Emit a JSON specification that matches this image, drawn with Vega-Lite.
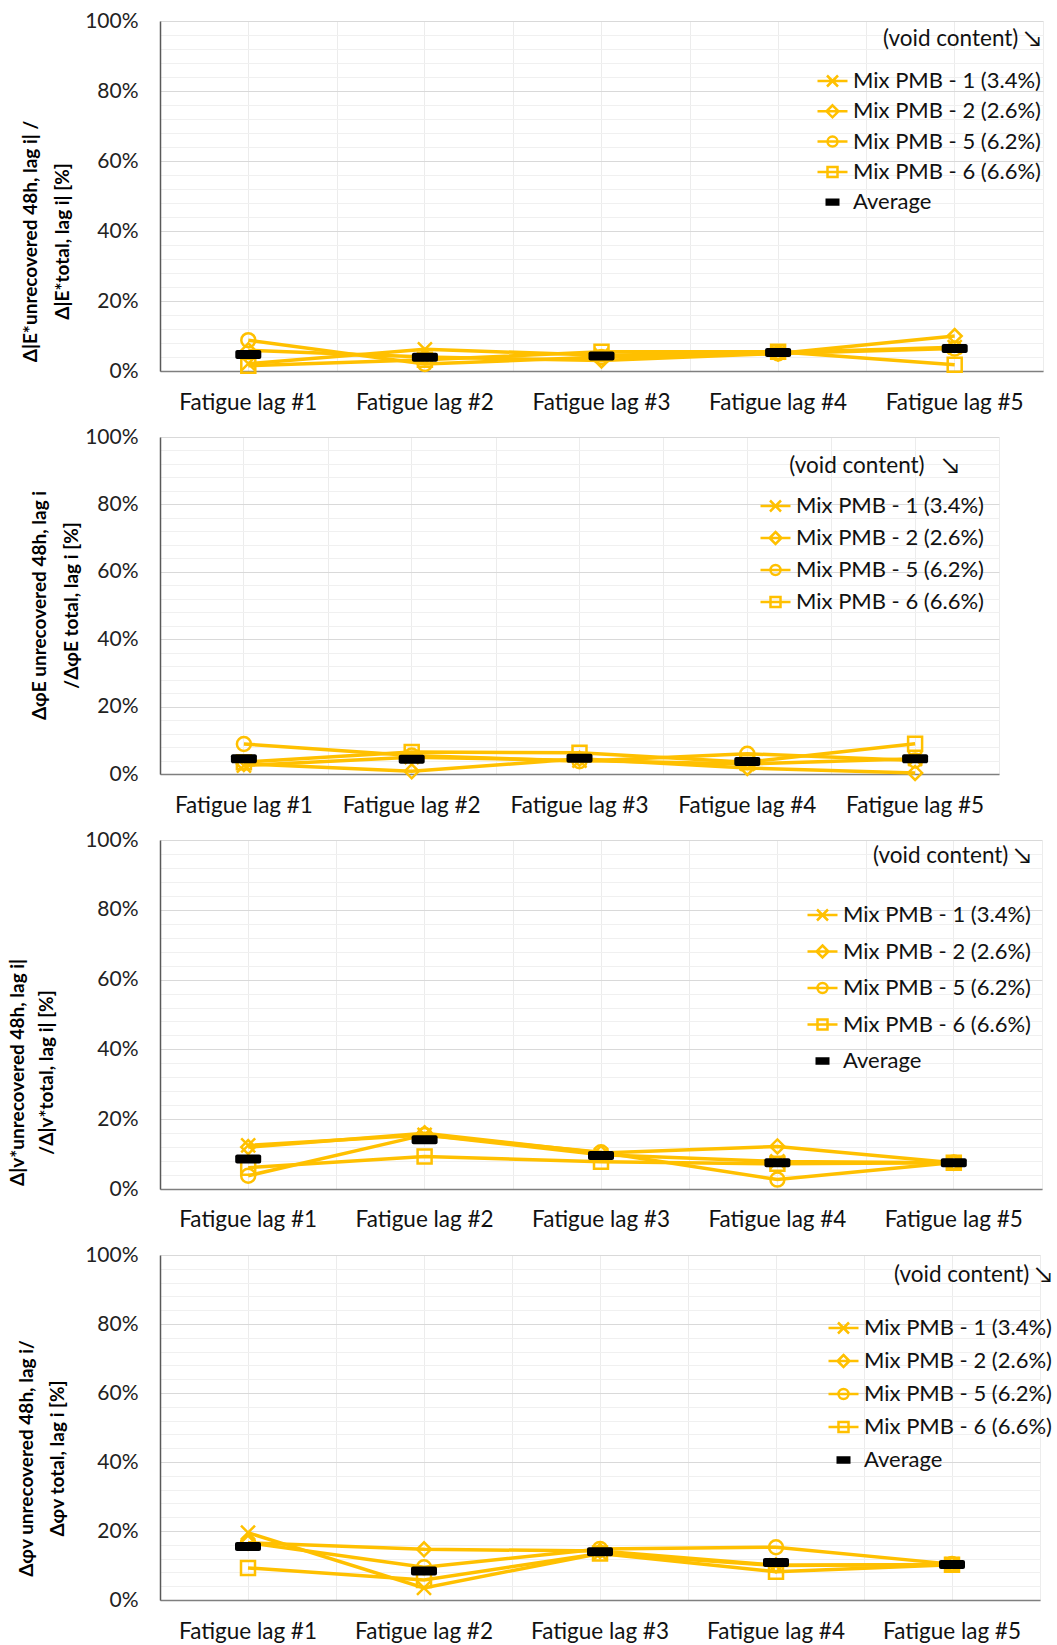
{
  "$schema": "https://vega.github.io/schema/vega-lite/v6.json",
  "background": "white",
  "padding": {"left": 7, "top": 10, "right": 0, "bottom": 0},
  "bounds": "flush",
  "spacing": 66,
  "resolve": {"scale": {"shape": "independent", "color": "independent"}, "legend": {"shape": "independent", "color": "independent"}},
  "config": {
    "view": {"stroke": null},
    "font": "Lato",
    "axis": {"labelFont": "Lato", "titleFont": "Lato"},
    "legend": {"labelFont": "Lato", "titleFont": "Lato"}
  },
  "data": {"values": [
    {"p":1,"lag":"Fatigue lag #1","series":"Mix PMB - 1 (3.4%)","v":2.1},
    {"p":1,"lag":"Fatigue lag #2","series":"Mix PMB - 1 (3.4%)","v":6.2},
    {"p":1,"lag":"Fatigue lag #3","series":"Mix PMB - 1 (3.4%)","v":4.5},
    {"p":1,"lag":"Fatigue lag #4","series":"Mix PMB - 1 (3.4%)","v":5.3},
    {"p":1,"lag":"Fatigue lag #5","series":"Mix PMB - 1 (3.4%)","v":6.8},
    {"p":1,"lag":"Fatigue lag #1","series":"Mix PMB - 2 (2.6%)","v":5.9},
    {"p":1,"lag":"Fatigue lag #2","series":"Mix PMB - 2 (2.6%)","v":4.0},
    {"p":1,"lag":"Fatigue lag #3","series":"Mix PMB - 2 (2.6%)","v":3.0},
    {"p":1,"lag":"Fatigue lag #4","series":"Mix PMB - 2 (2.6%)","v":5.0},
    {"p":1,"lag":"Fatigue lag #5","series":"Mix PMB - 2 (2.6%)","v":10.0},
    {"p":1,"lag":"Fatigue lag #1","series":"Mix PMB - 5 (6.2%)","v":8.8},
    {"p":1,"lag":"Fatigue lag #2","series":"Mix PMB - 5 (6.2%)","v":2.0},
    {"p":1,"lag":"Fatigue lag #3","series":"Mix PMB - 5 (6.2%)","v":4.0},
    {"p":1,"lag":"Fatigue lag #4","series":"Mix PMB - 5 (6.2%)","v":5.0},
    {"p":1,"lag":"Fatigue lag #5","series":"Mix PMB - 5 (6.2%)","v":6.4},
    {"p":1,"lag":"Fatigue lag #1","series":"Mix PMB - 6 (6.6%)","v":1.5},
    {"p":1,"lag":"Fatigue lag #2","series":"Mix PMB - 6 (6.6%)","v":3.2},
    {"p":1,"lag":"Fatigue lag #3","series":"Mix PMB - 6 (6.6%)","v":5.5},
    {"p":1,"lag":"Fatigue lag #4","series":"Mix PMB - 6 (6.6%)","v":5.5},
    {"p":1,"lag":"Fatigue lag #5","series":"Mix PMB - 6 (6.6%)","v":1.8},
    {"p":1,"lag":"Fatigue lag #1","series":"Average","v":4.7},
    {"p":1,"lag":"Fatigue lag #2","series":"Average","v":3.9},
    {"p":1,"lag":"Fatigue lag #3","series":"Average","v":4.3},
    {"p":1,"lag":"Fatigue lag #4","series":"Average","v":5.3},
    {"p":1,"lag":"Fatigue lag #5","series":"Average","v":6.4},

    {"p":2,"lag":"Fatigue lag #1","series":"Mix PMB - 1 (3.4%)","v":2.5},
    {"p":2,"lag":"Fatigue lag #2","series":"Mix PMB - 1 (3.4%)","v":5.0},
    {"p":2,"lag":"Fatigue lag #3","series":"Mix PMB - 1 (3.4%)","v":4.0},
    {"p":2,"lag":"Fatigue lag #4","series":"Mix PMB - 1 (3.4%)","v":3.0},
    {"p":2,"lag":"Fatigue lag #5","series":"Mix PMB - 1 (3.4%)","v":4.5},
    {"p":2,"lag":"Fatigue lag #1","series":"Mix PMB - 2 (2.6%)","v":3.0},
    {"p":2,"lag":"Fatigue lag #2","series":"Mix PMB - 2 (2.6%)","v":0.8},
    {"p":2,"lag":"Fatigue lag #3","series":"Mix PMB - 2 (2.6%)","v":4.5},
    {"p":2,"lag":"Fatigue lag #4","series":"Mix PMB - 2 (2.6%)","v":1.8},
    {"p":2,"lag":"Fatigue lag #5","series":"Mix PMB - 2 (2.6%)","v":0.3},
    {"p":2,"lag":"Fatigue lag #1","series":"Mix PMB - 5 (6.2%)","v":8.9},
    {"p":2,"lag":"Fatigue lag #2","series":"Mix PMB - 5 (6.2%)","v":5.5},
    {"p":2,"lag":"Fatigue lag #3","series":"Mix PMB - 5 (6.2%)","v":3.8},
    {"p":2,"lag":"Fatigue lag #4","series":"Mix PMB - 5 (6.2%)","v":6.0},
    {"p":2,"lag":"Fatigue lag #5","series":"Mix PMB - 5 (6.2%)","v":4.0},
    {"p":2,"lag":"Fatigue lag #1","series":"Mix PMB - 6 (6.6%)","v":3.5},
    {"p":2,"lag":"Fatigue lag #2","series":"Mix PMB - 6 (6.6%)","v":6.5},
    {"p":2,"lag":"Fatigue lag #3","series":"Mix PMB - 6 (6.6%)","v":6.3},
    {"p":2,"lag":"Fatigue lag #4","series":"Mix PMB - 6 (6.6%)","v":3.5},
    {"p":2,"lag":"Fatigue lag #5","series":"Mix PMB - 6 (6.6%)","v":9.0},
    {"p":2,"lag":"Fatigue lag #1","series":"Average","v":4.5},
    {"p":2,"lag":"Fatigue lag #2","series":"Average","v":4.4},
    {"p":2,"lag":"Fatigue lag #3","series":"Average","v":4.7},
    {"p":2,"lag":"Fatigue lag #4","series":"Average","v":3.7},
    {"p":2,"lag":"Fatigue lag #5","series":"Average","v":4.5},

    {"p":3,"lag":"Fatigue lag #1","series":"Mix PMB - 1 (3.4%)","v":12.5},
    {"p":3,"lag":"Fatigue lag #2","series":"Mix PMB - 1 (3.4%)","v":15.5},
    {"p":3,"lag":"Fatigue lag #3","series":"Mix PMB - 1 (3.4%)","v":9.8},
    {"p":3,"lag":"Fatigue lag #4","series":"Mix PMB - 1 (3.4%)","v":7.9},
    {"p":3,"lag":"Fatigue lag #5","series":"Mix PMB - 1 (3.4%)","v":7.5},
    {"p":3,"lag":"Fatigue lag #1","series":"Mix PMB - 2 (2.6%)","v":12.0},
    {"p":3,"lag":"Fatigue lag #2","series":"Mix PMB - 2 (2.6%)","v":16.0},
    {"p":3,"lag":"Fatigue lag #3","series":"Mix PMB - 2 (2.6%)","v":10.3},
    {"p":3,"lag":"Fatigue lag #4","series":"Mix PMB - 2 (2.6%)","v":12.2},
    {"p":3,"lag":"Fatigue lag #5","series":"Mix PMB - 2 (2.6%)","v":7.5},
    {"p":3,"lag":"Fatigue lag #1","series":"Mix PMB - 5 (6.2%)","v":3.8},
    {"p":3,"lag":"Fatigue lag #2","series":"Mix PMB - 5 (6.2%)","v":15.5},
    {"p":3,"lag":"Fatigue lag #3","series":"Mix PMB - 5 (6.2%)","v":10.5},
    {"p":3,"lag":"Fatigue lag #4","series":"Mix PMB - 5 (6.2%)","v":2.7},
    {"p":3,"lag":"Fatigue lag #5","series":"Mix PMB - 5 (6.2%)","v":7.6},
    {"p":3,"lag":"Fatigue lag #1","series":"Mix PMB - 6 (6.6%)","v":6.1},
    {"p":3,"lag":"Fatigue lag #2","series":"Mix PMB - 6 (6.6%)","v":9.3},
    {"p":3,"lag":"Fatigue lag #3","series":"Mix PMB - 6 (6.6%)","v":7.8},
    {"p":3,"lag":"Fatigue lag #4","series":"Mix PMB - 6 (6.6%)","v":7.2},
    {"p":3,"lag":"Fatigue lag #5","series":"Mix PMB - 6 (6.6%)","v":7.5},
    {"p":3,"lag":"Fatigue lag #1","series":"Average","v":8.6},
    {"p":3,"lag":"Fatigue lag #2","series":"Average","v":14.1},
    {"p":3,"lag":"Fatigue lag #3","series":"Average","v":9.6},
    {"p":3,"lag":"Fatigue lag #4","series":"Average","v":7.5},
    {"p":3,"lag":"Fatigue lag #5","series":"Average","v":7.5},

    {"p":4,"lag":"Fatigue lag #1","series":"Mix PMB - 1 (3.4%)","v":19.5},
    {"p":4,"lag":"Fatigue lag #2","series":"Mix PMB - 1 (3.4%)","v":3.5},
    {"p":4,"lag":"Fatigue lag #3","series":"Mix PMB - 1 (3.4%)","v":13.5},
    {"p":4,"lag":"Fatigue lag #4","series":"Mix PMB - 1 (3.4%)","v":10.0},
    {"p":4,"lag":"Fatigue lag #5","series":"Mix PMB - 1 (3.4%)","v":10.3},
    {"p":4,"lag":"Fatigue lag #1","series":"Mix PMB - 2 (2.6%)","v":16.6},
    {"p":4,"lag":"Fatigue lag #2","series":"Mix PMB - 2 (2.6%)","v":14.7},
    {"p":4,"lag":"Fatigue lag #3","series":"Mix PMB - 2 (2.6%)","v":14.2},
    {"p":4,"lag":"Fatigue lag #4","series":"Mix PMB - 2 (2.6%)","v":10.1},
    {"p":4,"lag":"Fatigue lag #5","series":"Mix PMB - 2 (2.6%)","v":10.3},
    {"p":4,"lag":"Fatigue lag #1","series":"Mix PMB - 5 (6.2%)","v":16.6},
    {"p":4,"lag":"Fatigue lag #2","series":"Mix PMB - 5 (6.2%)","v":9.5},
    {"p":4,"lag":"Fatigue lag #3","series":"Mix PMB - 5 (6.2%)","v":14.8},
    {"p":4,"lag":"Fatigue lag #4","series":"Mix PMB - 5 (6.2%)","v":15.3},
    {"p":4,"lag":"Fatigue lag #5","series":"Mix PMB - 5 (6.2%)","v":10.4},
    {"p":4,"lag":"Fatigue lag #1","series":"Mix PMB - 6 (6.6%)","v":9.3},
    {"p":4,"lag":"Fatigue lag #2","series":"Mix PMB - 6 (6.6%)","v":5.8},
    {"p":4,"lag":"Fatigue lag #3","series":"Mix PMB - 6 (6.6%)","v":13.5},
    {"p":4,"lag":"Fatigue lag #4","series":"Mix PMB - 6 (6.6%)","v":8.2},
    {"p":4,"lag":"Fatigue lag #5","series":"Mix PMB - 6 (6.6%)","v":10.2},
    {"p":4,"lag":"Fatigue lag #1","series":"Average","v":15.5},
    {"p":4,"lag":"Fatigue lag #2","series":"Average","v":8.4},
    {"p":4,"lag":"Fatigue lag #3","series":"Average","v":14.0},
    {"p":4,"lag":"Fatigue lag #4","series":"Average","v":10.9},
    {"p":4,"lag":"Fatigue lag #5","series":"Average","v":10.3}
  ]},
  "vconcat": [
    {
      "width": 883, "height": 350,
      "transform": [{"filter": "datum.p == 1"}],
      "resolve": {"axis": {"x": "independent", "y": "independent"}},
      "layer": [
        {
          "transform": [{"filter": "datum.series != 'Average'"}],
          "mark": {"type": "line", "color": "#FFC000", "strokeWidth": 3.5},
          "encoding": {
            "x": {"field": "lag", "type": "nominal", "bandPosition": 0.5,
              "scale": {"type": "band", "paddingInner": 0, "paddingOuter": 0},
              "axis": {"orient": "bottom", "title": null, "labelAngle": 0, "labelFontSize": 22.5, "labelColor": "#111", "labelPadding": 20, "ticks": false, "domainColor": "#7f7f7f", "domainWidth": 1.5, "grid": true, "gridColor": "#ececec", "tickBand": "center"}},
            "y": {"field": "v", "type": "quantitative", "scale": {"domain": [0, 100], "nice": false},
              "axis": {"values": [0,20,40,60,80,100], "labelExpr": "datum.value + '%'", "labelFontSize": 21, "labelColor": "#222", "labelPadding": 22, "ticks": false, "domainColor": "#595959", "domainWidth": 1.5, "grid": true, "gridColor": "#d9d9d9", "gridWidth": 1.2,
                "title": ["Δ|E*unrecovered 48h, lag i| /", "Δ|E*total, lag i| [%]"], "titleFontSize": 19, "titleFontWeight": "bold", "titleColor": "#000", "titleLineHeight": 32, "titleX": -120, "titleY": 220}},
            "detail": {"field": "series"}
          }
        },
        {
          "transform": [{"filter": "datum.series == 'Mix PMB - 1 (3.4%)'"}],
          "mark": {"type": "point", "shape": "M-1,-1L1,1M-1,1L1,-1", "filled": false, "stroke": "#FFC000", "strokeWidth": 2.5, "size": 196, "opacity": 1},
          "encoding": {
            "x": {"field": "lag", "type": "nominal", "bandPosition": 0.5,
              "axis": {"orient": "top", "title": null, "labels": false, "ticks": false, "domain": false, "grid": true, "gridColor": "#ececec", "tickBand": "extent"}},
            "y": {"field": "v", "type": "quantitative",
              "axis": {"orient": "right", "title": null, "values": [4,8,12,16,24,28,32,36,44,48,52,56,64,68,72,76,84,88,92,96], "labels": false, "ticks": false, "domain": false, "grid": true, "gridColor": "#f0f0f0"}}
          }
        },
        {
          "transform": [{"filter": "datum.series == 'Mix PMB - 2 (2.6%)'"}],
          "mark": {"type": "point", "shape": "diamond", "filled": false, "stroke": "#FFC000", "strokeWidth": 2.5, "size": 196, "opacity": 1},
          "encoding": {
            "x": {"field": "lag", "type": "nominal", "bandPosition": 0.5, "axis": null},
            "y": {"field": "v", "type": "quantitative", "axis": null}
          }
        },
        {
          "transform": [{"filter": "datum.series == 'Mix PMB - 5 (6.2%)'"}],
          "mark": {"type": "point", "shape": "circle", "filled": false, "stroke": "#FFC000", "strokeWidth": 2.5, "size": 196, "opacity": 1},
          "encoding": {
            "x": {"field": "lag", "type": "nominal", "bandPosition": 0.5, "axis": null},
            "y": {"field": "v", "type": "quantitative", "axis": null}
          }
        },
        {
          "transform": [{"filter": "datum.series == 'Mix PMB - 6 (6.6%)'"}],
          "mark": {"type": "point", "shape": "square", "filled": false, "stroke": "#FFC000", "strokeWidth": 2.5, "size": 196, "opacity": 1},
          "encoding": {
            "x": {"field": "lag", "type": "nominal", "bandPosition": 0.5, "axis": null},
            "y": {"field": "v", "type": "quantitative", "axis": null}
          }
        },
        {
          "transform": [{"filter": "datum.series == 'Average'"}],
          "mark": {"type": "tick", "color": "black", "thickness": 9, "size": 26, "cornerRadius": 2, "opacity": 1},
          "encoding": {
            "x": {"field": "lag", "type": "nominal", "axis": null},
            "y": {"field": "v", "type": "quantitative", "axis": null}
          }
        },
        {
          "mark": {"type": "point", "filled": false, "opacity": 0},
          "encoding": {
            "x": {"field": "lag", "type": "nominal", "bandPosition": 0.5, "axis": null},
            "y": {"field": "v", "type": "quantitative", "axis": null},
            "color": {"field": "series", "type": "nominal",
              "scale": {"domain": ["Mix PMB - 1 (3.4%)", "Mix PMB - 2 (2.6%)", "Mix PMB - 5 (6.2%)", "Mix PMB - 6 (6.6%)", "Average"], "range": ["#FFC000", "#FFC000", "#FFC000", "#FFC000", "#000000"]},
              "legend": {"orient": "none", "legendX": 661, "legendY": 7, "padding": 0, "title": "(void content)\u00a0↘", "titleFontSize": 22.5, "titleFontWeight": "normal", "titleColor": "#111", "titleAnchor": "end", "titleAlign": "right", "titlePadding": 19, "titleLimit": 500, "labelFontSize": 22, "labelColor": "#111", "labelOffset": 9, "labelLimit": 400, "symbolSize": 400, "symbolStrokeWidth": 2.5, "symbolOpacity": 1, "rowPadding": 7.3}},
            "shape": {"field": "series", "type": "nominal",
              "scale": {"domain": ["Mix PMB - 1 (3.4%)", "Mix PMB - 2 (2.6%)", "Mix PMB - 5 (6.2%)", "Mix PMB - 6 (6.6%)", "Average"],
                "range": ["M-1.5,0H1.5M-0.55,-0.55L0.55,0.55M-0.55,0.55L0.55,-0.55", "M-1.5,0H1.5M0,-0.6L0.6,0L0,0.6L-0.6,0Z", "M-1.5,0H1.5M-0.5,0A0.5,0.5 0 1,0 0.5,0A0.5,0.5 0 1,0 -0.5,0Z", "M-1.5,0H1.5M-0.5,-0.5H0.5V0.5H-0.5Z", "M-0.7,-0.24H0.7M-0.7,-0.16H0.7M-0.7,-0.08H0.7M-0.7,0H0.7M-0.7,0.08H0.7M-0.7,0.16H0.7M-0.7,0.24H0.7"]},
              "legend": {"orient": "none", "legendX": 661, "legendY": 7, "padding": 0, "title": "(void content)\u00a0↘", "titleFontSize": 22.5, "titleFontWeight": "normal", "titleColor": "#111", "titleAnchor": "end", "titleAlign": "right", "titlePadding": 19, "titleLimit": 500, "labelFontSize": 22, "labelColor": "#111", "labelOffset": 9, "labelLimit": 400, "symbolSize": 400, "symbolStrokeWidth": 2.5, "symbolOpacity": 1, "rowPadding": 7.3}}
          }
        }
      ]
    },
    {
      "width": 839, "height": 337,
      "transform": [{"filter": "datum.p == 2"}],
      "resolve": {"axis": {"x": "independent", "y": "independent"}},
      "layer": [
        {
          "transform": [{"filter": "datum.series != 'Average'"}],
          "mark": {"type": "line", "color": "#FFC000", "strokeWidth": 3.5},
          "encoding": {
            "x": {"field": "lag", "type": "nominal", "bandPosition": 0.5,
              "scale": {"type": "band", "paddingInner": 0, "paddingOuter": 0},
              "axis": {"orient": "bottom", "title": null, "labelAngle": 0, "labelFontSize": 22.5, "labelColor": "#111", "labelPadding": 20, "ticks": false, "domainColor": "#7f7f7f", "domainWidth": 1.5, "grid": true, "gridColor": "#ececec", "tickBand": "center"}},
            "y": {"field": "v", "type": "quantitative", "scale": {"domain": [0, 100], "nice": false},
              "axis": {"values": [0,20,40,60,80,100], "labelExpr": "datum.value + '%'", "labelFontSize": 21, "labelColor": "#222", "labelPadding": 22, "ticks": false, "domainColor": "#595959", "domainWidth": 1.5, "grid": true, "gridColor": "#d9d9d9", "gridWidth": 1.2,
                "title": ["ΔφE unrecovered 48h, lag i", "/ΔφE total, lag i [%]"], "titleFontSize": 19, "titleFontWeight": "bold", "titleColor": "#000", "titleLineHeight": 32, "titleX": -111, "titleY": 168}},
            "detail": {"field": "series"}
          }
        },
        {
          "transform": [{"filter": "datum.series == 'Mix PMB - 1 (3.4%)'"}],
          "mark": {"type": "point", "shape": "M-1,-1L1,1M-1,1L1,-1", "filled": false, "stroke": "#FFC000", "strokeWidth": 2.5, "size": 196, "opacity": 1},
          "encoding": {
            "x": {"field": "lag", "type": "nominal", "bandPosition": 0.5,
              "axis": {"orient": "top", "title": null, "labels": false, "ticks": false, "domain": false, "grid": true, "gridColor": "#ececec", "tickBand": "extent"}},
            "y": {"field": "v", "type": "quantitative",
              "axis": {"orient": "right", "title": null, "values": [4,8,12,16,24,28,32,36,44,48,52,56,64,68,72,76,84,88,92,96], "labels": false, "ticks": false, "domain": false, "grid": true, "gridColor": "#f0f0f0"}}
          }
        },
        {
          "transform": [{"filter": "datum.series == 'Mix PMB - 2 (2.6%)'"}],
          "mark": {"type": "point", "shape": "diamond", "filled": false, "stroke": "#FFC000", "strokeWidth": 2.5, "size": 196, "opacity": 1},
          "encoding": {
            "x": {"field": "lag", "type": "nominal", "bandPosition": 0.5, "axis": null},
            "y": {"field": "v", "type": "quantitative", "axis": null}
          }
        },
        {
          "transform": [{"filter": "datum.series == 'Mix PMB - 5 (6.2%)'"}],
          "mark": {"type": "point", "shape": "circle", "filled": false, "stroke": "#FFC000", "strokeWidth": 2.5, "size": 196, "opacity": 1},
          "encoding": {
            "x": {"field": "lag", "type": "nominal", "bandPosition": 0.5, "axis": null},
            "y": {"field": "v", "type": "quantitative", "axis": null}
          }
        },
        {
          "transform": [{"filter": "datum.series == 'Mix PMB - 6 (6.6%)'"}],
          "mark": {"type": "point", "shape": "square", "filled": false, "stroke": "#FFC000", "strokeWidth": 2.5, "size": 196, "opacity": 1},
          "encoding": {
            "x": {"field": "lag", "type": "nominal", "bandPosition": 0.5, "axis": null},
            "y": {"field": "v", "type": "quantitative", "axis": null}
          }
        },
        {
          "transform": [{"filter": "datum.series == 'Average'"}],
          "mark": {"type": "tick", "color": "black", "thickness": 9, "size": 26, "cornerRadius": 2, "opacity": 1},
          "encoding": {
            "x": {"field": "lag", "type": "nominal", "axis": null},
            "y": {"field": "v", "type": "quantitative", "axis": null}
          }
        },
        {
          "transform": [{"filter": "datum.series != 'Average'"}],
          "mark": {"type": "point", "filled": false, "opacity": 0},
          "encoding": {
            "x": {"field": "lag", "type": "nominal", "bandPosition": 0.5, "axis": null},
            "y": {"field": "v", "type": "quantitative", "axis": null},
            "color": {"field": "series", "type": "nominal",
              "scale": {"domain": ["Mix PMB - 1 (3.4%)", "Mix PMB - 2 (2.6%)", "Mix PMB - 5 (6.2%)", "Mix PMB - 6 (6.6%)"], "range": ["#FFC000", "#FFC000", "#FFC000", "#FFC000"]},
              "legend": {"orient": "none", "legendX": 604, "legendY": 18, "padding": 0, "title": "(void content)\u00a0\u00a0\u00a0↘", "titleFontSize": 22.5, "titleFontWeight": "normal", "titleColor": "#111", "titleAnchor": "middle", "titleAlign": "center", "titlePadding": 17, "titleLimit": 500, "labelFontSize": 22, "labelColor": "#111", "labelOffset": 9, "labelLimit": 400, "symbolSize": 400, "symbolStrokeWidth": 2.5, "symbolOpacity": 1, "rowPadding": 9}},
            "shape": {"field": "series", "type": "nominal",
              "scale": {"domain": ["Mix PMB - 1 (3.4%)", "Mix PMB - 2 (2.6%)", "Mix PMB - 5 (6.2%)", "Mix PMB - 6 (6.6%)"],
                "range": ["M-1.5,0H1.5M-0.55,-0.55L0.55,0.55M-0.55,0.55L0.55,-0.55", "M-1.5,0H1.5M0,-0.6L0.6,0L0,0.6L-0.6,0Z", "M-1.5,0H1.5M-0.5,0A0.5,0.5 0 1,0 0.5,0A0.5,0.5 0 1,0 -0.5,0Z", "M-1.5,0H1.5M-0.5,-0.5H0.5V0.5H-0.5Z"]},
              "legend": {"orient": "none", "legendX": 604, "legendY": 18, "padding": 0, "title": "(void content)\u00a0\u00a0\u00a0↘", "titleFontSize": 22.5, "titleFontWeight": "normal", "titleColor": "#111", "titleAnchor": "middle", "titleAlign": "center", "titlePadding": 17, "titleLimit": 500, "labelFontSize": 22, "labelColor": "#111", "labelOffset": 9, "labelLimit": 400, "symbolSize": 400, "symbolStrokeWidth": 2.5, "symbolOpacity": 1, "rowPadding": 9}}
          }
        }
      ]
    },
    {
      "width": 882, "height": 349,
      "transform": [{"filter": "datum.p == 3"}],
      "resolve": {"axis": {"x": "independent", "y": "independent"}},
      "layer": [
        {
          "transform": [{"filter": "datum.series != 'Average'"}],
          "mark": {"type": "line", "color": "#FFC000", "strokeWidth": 3.5},
          "encoding": {
            "x": {"field": "lag", "type": "nominal", "bandPosition": 0.5,
              "scale": {"type": "band", "paddingInner": 0, "paddingOuter": 0},
              "axis": {"orient": "bottom", "title": null, "labelAngle": 0, "labelFontSize": 22.5, "labelColor": "#111", "labelPadding": 19, "ticks": false, "domainColor": "#7f7f7f", "domainWidth": 1.5, "grid": true, "gridColor": "#ececec", "tickBand": "center"}},
            "y": {"field": "v", "type": "quantitative", "scale": {"domain": [0, 100], "nice": false},
              "axis": {"values": [0,20,40,60,80,100], "labelExpr": "datum.value + '%'", "labelFontSize": 21, "labelColor": "#222", "labelPadding": 22, "ticks": false, "domainColor": "#595959", "domainWidth": 1.5, "grid": true, "gridColor": "#d9d9d9", "gridWidth": 1.2,
                "title": ["Δ|v*unrecovered 48h, lag i|", "/Δ|v*total, lag i| [%]"], "titleFontSize": 19, "titleFontWeight": "bold", "titleColor": "#000", "titleLineHeight": 29, "titleX": -133, "titleY": 232}},
            "detail": {"field": "series"}
          }
        },
        {
          "transform": [{"filter": "datum.series == 'Mix PMB - 1 (3.4%)'"}],
          "mark": {"type": "point", "shape": "M-1,-1L1,1M-1,1L1,-1", "filled": false, "stroke": "#FFC000", "strokeWidth": 2.5, "size": 196, "opacity": 1},
          "encoding": {
            "x": {"field": "lag", "type": "nominal", "bandPosition": 0.5,
              "axis": {"orient": "top", "title": null, "labels": false, "ticks": false, "domain": false, "grid": true, "gridColor": "#ececec", "tickBand": "extent"}},
            "y": {"field": "v", "type": "quantitative",
              "axis": {"orient": "right", "title": null, "values": [4,8,12,16,24,28,32,36,44,48,52,56,64,68,72,76,84,88,92,96], "labels": false, "ticks": false, "domain": false, "grid": true, "gridColor": "#f0f0f0"}}
          }
        },
        {
          "transform": [{"filter": "datum.series == 'Mix PMB - 2 (2.6%)'"}],
          "mark": {"type": "point", "shape": "diamond", "filled": false, "stroke": "#FFC000", "strokeWidth": 2.5, "size": 196, "opacity": 1},
          "encoding": {
            "x": {"field": "lag", "type": "nominal", "bandPosition": 0.5, "axis": null},
            "y": {"field": "v", "type": "quantitative", "axis": null}
          }
        },
        {
          "transform": [{"filter": "datum.series == 'Mix PMB - 5 (6.2%)'"}],
          "mark": {"type": "point", "shape": "circle", "filled": false, "stroke": "#FFC000", "strokeWidth": 2.5, "size": 196, "opacity": 1},
          "encoding": {
            "x": {"field": "lag", "type": "nominal", "bandPosition": 0.5, "axis": null},
            "y": {"field": "v", "type": "quantitative", "axis": null}
          }
        },
        {
          "transform": [{"filter": "datum.series == 'Mix PMB - 6 (6.6%)'"}],
          "mark": {"type": "point", "shape": "square", "filled": false, "stroke": "#FFC000", "strokeWidth": 2.5, "size": 196, "opacity": 1},
          "encoding": {
            "x": {"field": "lag", "type": "nominal", "bandPosition": 0.5, "axis": null},
            "y": {"field": "v", "type": "quantitative", "axis": null}
          }
        },
        {
          "transform": [{"filter": "datum.series == 'Average'"}],
          "mark": {"type": "tick", "color": "black", "thickness": 9, "size": 26, "cornerRadius": 2, "opacity": 1},
          "encoding": {
            "x": {"field": "lag", "type": "nominal", "axis": null},
            "y": {"field": "v", "type": "quantitative", "axis": null}
          }
        },
        {
          "mark": {"type": "point", "filled": false, "opacity": 0},
          "encoding": {
            "x": {"field": "lag", "type": "nominal", "bandPosition": 0.5, "axis": null},
            "y": {"field": "v", "type": "quantitative", "axis": null},
            "color": {"field": "series", "type": "nominal",
              "scale": {"domain": ["Mix PMB - 1 (3.4%)", "Mix PMB - 2 (2.6%)", "Mix PMB - 5 (6.2%)", "Mix PMB - 6 (6.6%)", "Average"], "range": ["#FFC000", "#FFC000", "#FFC000", "#FFC000", "#000000"]},
              "legend": {"orient": "none", "legendX": 651, "legendY": 5, "padding": 0, "title": "(void content)\u00a0↘", "titleFontSize": 22.5, "titleFontWeight": "normal", "titleColor": "#111", "titleAnchor": "end", "titleAlign": "right", "titlePadding": 36, "titleLimit": 500, "labelFontSize": 22, "labelColor": "#111", "labelOffset": 9, "labelLimit": 400, "symbolSize": 400, "symbolStrokeWidth": 2.5, "symbolOpacity": 1, "rowPadding": 13.5}},
            "shape": {"field": "series", "type": "nominal",
              "scale": {"domain": ["Mix PMB - 1 (3.4%)", "Mix PMB - 2 (2.6%)", "Mix PMB - 5 (6.2%)", "Mix PMB - 6 (6.6%)", "Average"],
                "range": ["M-1.5,0H1.5M-0.55,-0.55L0.55,0.55M-0.55,0.55L0.55,-0.55", "M-1.5,0H1.5M0,-0.6L0.6,0L0,0.6L-0.6,0Z", "M-1.5,0H1.5M-0.5,0A0.5,0.5 0 1,0 0.5,0A0.5,0.5 0 1,0 -0.5,0Z", "M-1.5,0H1.5M-0.5,-0.5H0.5V0.5H-0.5Z", "M-0.7,-0.24H0.7M-0.7,-0.16H0.7M-0.7,-0.08H0.7M-0.7,0H0.7M-0.7,0.08H0.7M-0.7,0.16H0.7M-0.7,0.24H0.7"]},
              "legend": {"orient": "none", "legendX": 651, "legendY": 5, "padding": 0, "title": "(void content)\u00a0↘", "titleFontSize": 22.5, "titleFontWeight": "normal", "titleColor": "#111", "titleAnchor": "end", "titleAlign": "right", "titlePadding": 36, "titleLimit": 500, "labelFontSize": 22, "labelColor": "#111", "labelOffset": 9, "labelLimit": 400, "symbolSize": 400, "symbolStrokeWidth": 2.5, "symbolOpacity": 1, "rowPadding": 13.5}}
          }
        }
      ]
    },
    {
      "width": 880, "height": 345,
      "transform": [{"filter": "datum.p == 4"}],
      "resolve": {"axis": {"x": "independent", "y": "independent"}},
      "layer": [
        {
          "transform": [{"filter": "datum.series != 'Average'"}],
          "mark": {"type": "line", "color": "#FFC000", "strokeWidth": 3.5},
          "encoding": {
            "x": {"field": "lag", "type": "nominal", "bandPosition": 0.5,
              "scale": {"type": "band", "paddingInner": 0, "paddingOuter": 0},
              "axis": {"orient": "bottom", "title": null, "labelAngle": 0, "labelFontSize": 22.5, "labelColor": "#111", "labelPadding": 20, "ticks": false, "domainColor": "#7f7f7f", "domainWidth": 1.5, "grid": true, "gridColor": "#ececec", "tickBand": "center"}},
            "y": {"field": "v", "type": "quantitative", "scale": {"domain": [0, 100], "nice": false},
              "axis": {"values": [0,20,40,60,80,100], "labelExpr": "datum.value + '%'", "labelFontSize": 21, "labelColor": "#222", "labelPadding": 22, "ticks": false, "domainColor": "#595959", "domainWidth": 1.5, "grid": true, "gridColor": "#d9d9d9", "gridWidth": 1.2,
                "title": ["Δφv unrecovered 48h, lag i/", "Δφv total, lag i [%]"], "titleFontSize": 19, "titleFontWeight": "bold", "titleColor": "#000", "titleLineHeight": 31, "titleX": -124, "titleY": 203}},
            "detail": {"field": "series"}
          }
        },
        {
          "transform": [{"filter": "datum.series == 'Mix PMB - 1 (3.4%)'"}],
          "mark": {"type": "point", "shape": "M-1,-1L1,1M-1,1L1,-1", "filled": false, "stroke": "#FFC000", "strokeWidth": 2.5, "size": 196, "opacity": 1},
          "encoding": {
            "x": {"field": "lag", "type": "nominal", "bandPosition": 0.5,
              "axis": {"orient": "top", "title": null, "labels": false, "ticks": false, "domain": false, "grid": true, "gridColor": "#ececec", "tickBand": "extent"}},
            "y": {"field": "v", "type": "quantitative",
              "axis": {"orient": "right", "title": null, "values": [4,8,12,16,24,28,32,36,44,48,52,56,64,68,72,76,84,88,92,96], "labels": false, "ticks": false, "domain": false, "grid": true, "gridColor": "#f0f0f0"}}
          }
        },
        {
          "transform": [{"filter": "datum.series == 'Mix PMB - 2 (2.6%)'"}],
          "mark": {"type": "point", "shape": "diamond", "filled": false, "stroke": "#FFC000", "strokeWidth": 2.5, "size": 196, "opacity": 1},
          "encoding": {
            "x": {"field": "lag", "type": "nominal", "bandPosition": 0.5, "axis": null},
            "y": {"field": "v", "type": "quantitative", "axis": null}
          }
        },
        {
          "transform": [{"filter": "datum.series == 'Mix PMB - 5 (6.2%)'"}],
          "mark": {"type": "point", "shape": "circle", "filled": false, "stroke": "#FFC000", "strokeWidth": 2.5, "size": 196, "opacity": 1},
          "encoding": {
            "x": {"field": "lag", "type": "nominal", "bandPosition": 0.5, "axis": null},
            "y": {"field": "v", "type": "quantitative", "axis": null}
          }
        },
        {
          "transform": [{"filter": "datum.series == 'Mix PMB - 6 (6.6%)'"}],
          "mark": {"type": "point", "shape": "square", "filled": false, "stroke": "#FFC000", "strokeWidth": 2.5, "size": 196, "opacity": 1},
          "encoding": {
            "x": {"field": "lag", "type": "nominal", "bandPosition": 0.5, "axis": null},
            "y": {"field": "v", "type": "quantitative", "axis": null}
          }
        },
        {
          "transform": [{"filter": "datum.series == 'Average'"}],
          "mark": {"type": "tick", "color": "black", "thickness": 9, "size": 26, "cornerRadius": 2, "opacity": 1},
          "encoding": {
            "x": {"field": "lag", "type": "nominal", "axis": null},
            "y": {"field": "v", "type": "quantitative", "axis": null}
          }
        },
        {
          "mark": {"type": "point", "filled": false, "opacity": 0},
          "encoding": {
            "x": {"field": "lag", "type": "nominal", "bandPosition": 0.5, "axis": null},
            "y": {"field": "v", "type": "quantitative", "axis": null},
            "color": {"field": "series", "type": "nominal",
              "scale": {"domain": ["Mix PMB - 1 (3.4%)", "Mix PMB - 2 (2.6%)", "Mix PMB - 5 (6.2%)", "Mix PMB - 6 (6.6%)", "Average"], "range": ["#FFC000", "#FFC000", "#FFC000", "#FFC000", "#000000"]},
              "legend": {"orient": "none", "legendX": 672, "legendY": 9, "padding": 0, "title": "(void content)\u00a0↘", "titleFontSize": 22.5, "titleFontWeight": "normal", "titleColor": "#111", "titleAnchor": "end", "titleAlign": "right", "titlePadding": 30, "titleLimit": 500, "labelFontSize": 22, "labelColor": "#111", "labelOffset": 9, "labelLimit": 400, "symbolSize": 400, "symbolStrokeWidth": 2.5, "symbolOpacity": 1, "rowPadding": 10}},
            "shape": {"field": "series", "type": "nominal",
              "scale": {"domain": ["Mix PMB - 1 (3.4%)", "Mix PMB - 2 (2.6%)", "Mix PMB - 5 (6.2%)", "Mix PMB - 6 (6.6%)", "Average"],
                "range": ["M-1.5,0H1.5M-0.55,-0.55L0.55,0.55M-0.55,0.55L0.55,-0.55", "M-1.5,0H1.5M0,-0.6L0.6,0L0,0.6L-0.6,0Z", "M-1.5,0H1.5M-0.5,0A0.5,0.5 0 1,0 0.5,0A0.5,0.5 0 1,0 -0.5,0Z", "M-1.5,0H1.5M-0.5,-0.5H0.5V0.5H-0.5Z", "M-0.7,-0.24H0.7M-0.7,-0.16H0.7M-0.7,-0.08H0.7M-0.7,0H0.7M-0.7,0.08H0.7M-0.7,0.16H0.7M-0.7,0.24H0.7"]},
              "legend": {"orient": "none", "legendX": 672, "legendY": 9, "padding": 0, "title": "(void content)\u00a0↘", "titleFontSize": 22.5, "titleFontWeight": "normal", "titleColor": "#111", "titleAnchor": "end", "titleAlign": "right", "titlePadding": 30, "titleLimit": 500, "labelFontSize": 22, "labelColor": "#111", "labelOffset": 9, "labelLimit": 400, "symbolSize": 400, "symbolStrokeWidth": 2.5, "symbolOpacity": 1, "rowPadding": 10}}
          }
        }
      ]
    }
  ]
}
